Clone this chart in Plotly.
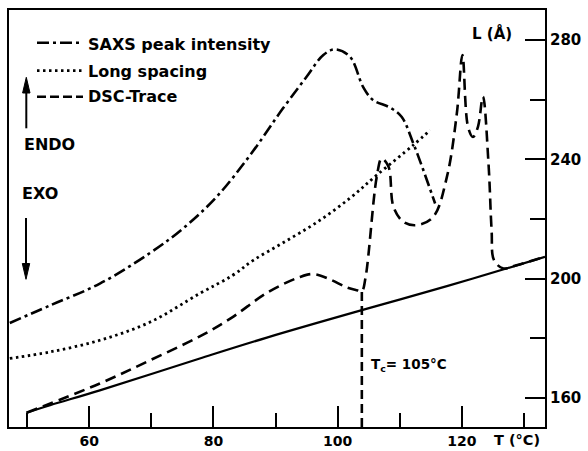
import plotly.graph_objects as go

# ---- data (T in °C, values expressed in the L(Å) scale of the right axis) ----
saxs_T = [47.2, 53.7, 61.7, 69.8, 75.1, 80.5, 85.9, 91.2, 95.0, 97.7, 99.6, 102.0,
          104.1, 105.7, 108.4, 110.3, 112.2, 113.8, 115.7]
saxs_L = [185.1, 191.0, 198.3, 208.6, 216.8, 227.4, 241.4, 257.1, 267.7, 275.0, 276.9, 274.4,
          264.3, 259.9, 257.4, 254.3, 245.3, 236.4, 225.2]

spacing_T = [47.2, 53.7, 61.7, 69.8, 77.8, 83.1, 86.4, 91.2, 96.6, 102.0, 106.3, 112.2, 114.9]
spacing_L = [173.2, 175.4, 179.3, 185.4, 195.0, 201.1, 206.1, 212.0, 218.8, 227.0, 234.7, 244.8, 249.8]

dsc_T = [49.9, 61.7, 69.8, 77.8, 82.9, 88.6, 93.9, 96.1, 98.8, 101.5, 103.1, 103.9,
         104.5, 106.3, 107.1, 108.2, 109.0, 110.6, 112.7, 115.4, 117.6, 119.2, 120.1,
         121.0, 121.8, 122.6, 123.4, 124.3, 124.8, 125.2, 126.7, 128.8, 133.4]
dsc_L = [155.0, 164.8, 172.6, 180.6, 186.8, 195.2, 200.5, 201.5, 199.7, 197.0, 196.1, 195.8,
         200.4, 234.1, 240.3, 237.5, 224.0, 219.0, 217.9, 220.7, 234.1, 255.4, 275.0,
         250.9, 247.5, 250.9, 261.0, 238.6, 216.2, 206.1, 203.4, 204.5, 207.3]

base_T = [49.9, 53.7, 61.7, 77.8, 88.6, 103.9, 110.1, 121.8, 133.4]
base_L = [155.0, 157.5, 162.5, 173.2, 180.2, 189.4, 193.0, 200.0, 207.3]

tc_T = [103.9, 103.9]
tc_L = [150.2, 195.8]

x_range = [47.07, 133.4]
y_range = [150.2, 290.1]

FONT = "DejaVu Sans"
BLACK = "black"

fig = go.Figure()
fig.add_trace(go.Scatter(x=saxs_T, y=saxs_L, mode="lines", line_shape="spline",
                         line=dict(color=BLACK, width=2.6, dash="12px,4px,3px,4px"),
                         name="SAXS peak intensity"))
fig.add_trace(go.Scatter(x=spacing_T, y=spacing_L, mode="lines", line_shape="spline",
                         line=dict(color=BLACK, width=2.8, dash="2.5px,3.5px"),
                         name="Long spacing"))
fig.add_trace(go.Scatter(x=dsc_T, y=dsc_L, mode="lines", line_shape="spline",
                         line=dict(color=BLACK, width=2.6, dash="11px,6px"),
                         name="DSC-Trace"))
fig.add_trace(go.Scatter(x=base_T, y=base_L, mode="lines", line_shape="spline",
                         line=dict(color=BLACK, width=2.2), name="baseline"))
fig.add_trace(go.Scatter(x=tc_T, y=tc_L, mode="lines",
                         line=dict(color=BLACK, width=2.6, dash="9px,5px"), name="Tc"))

# plot-area pixel helpers (for legend/arrow decorations)
PL, PR, PT, PB = 9, 545, 10, 427
def px(x):
    return (x - PL) / (PR - PL)
def py(y):
    return (PB - y) / (PB - PT)

shapes = []
# legend samples
for yy, dash, w in [(42.7, "12px,4px,3px,4px", 2.6), (70.7, "2.5px,3.5px", 2.8), (96.7, "9px,4px", 2.6)]:
    shapes.append(dict(type="line", xref="paper", yref="paper", x0=px(37), x1=px(83),
                       y0=py(yy), y1=py(yy), line=dict(color=BLACK, width=w, dash=dash)))
# up arrow (ENDO)
shapes.append(dict(type="line", xref="paper", yref="paper", x0=px(26.3), x1=px(26.3),
                   y0=py(128.3), y1=py(90), line=dict(color=BLACK, width=2)))
shapes.append(dict(type="path", xref="paper", yref="paper",
                   path=f"M{px(26.3)},{py(77.3)} L{px(22.6)},{py(93)} L{px(30)},{py(93)} Z",
                   fillcolor=BLACK, line=dict(color=BLACK, width=1)))
# down arrow (EXO)
shapes.append(dict(type="line", xref="paper", yref="paper", x0=px(26), x1=px(26),
                   y0=py(218), y1=py(266), line=dict(color=BLACK, width=2)))
shapes.append(dict(type="path", xref="paper", yref="paper",
                   path=f"M{px(26)},{py(279.3)} L{px(22.3)},{py(263.5)} L{px(29.7)},{py(263.5)} Z",
                   fillcolor=BLACK, line=dict(color=BLACK, width=1)))

annotations = []
def txt(text, x, y, size, xanchor="left"):
    annotations.append(dict(text=f"<b>{text}</b>", xref="paper", yref="paper", x=px(x), y=py(y),
                            xanchor=xanchor, yanchor="middle", showarrow=False,
                            font=dict(family=FONT, size=size, color=BLACK)))

txt("SAXS peak intensity", 86, 44.5, 16)
txt("Long spacing", 86, 71.5, 16)
txt("DSC-Trace", 86, 96.5, 16)
txt("ENDO", 22, 144, 16)
txt("EXO", 20, 193, 16)
txt("T<sub>c</sub>= 105°C", 369, 365, 13.5)
txt("L (Å)", 492, 33, 15, "center")
txt("T (°C)", 517, 440, 14.5, "center")

axis_common = dict(showgrid=False, zeroline=False, showline=True, linewidth=2,
                   linecolor=BLACK, mirror=True, ticks="inside", tickwidth=2,
                   tickcolor=BLACK, tick0=0, automargin=False)

fig.update_layout(
    width=588, height=451,
    margin=dict(l=PL, r=588 - PR, t=PT, b=451 - PB),
    plot_bgcolor="white", paper_bgcolor="white",
    showlegend=False,
    xaxis=dict(range=x_range, dtick=20, ticklen=21, ticklabelstandoff=0,
               tickfont=dict(family=FONT, size=14, color=BLACK, weight="bold"),
               minor=dict(ticks="inside", dtick=10, tick0=0, ticklen=14, tickwidth=2,
                          tickcolor=BLACK, showgrid=False),
               **axis_common),
    yaxis=dict(range=y_range, side="right", dtick=40, ticklen=20,
               tickfont=dict(family=FONT, size=15, color=BLACK, weight="bold"),
               minor=dict(ticks="inside", dtick=20, tick0=0, ticklen=15, tickwidth=2,
                          tickcolor=BLACK, showgrid=False),
               **axis_common),
    shapes=shapes,
    annotations=annotations,
)

fig.write_html("out.html")
